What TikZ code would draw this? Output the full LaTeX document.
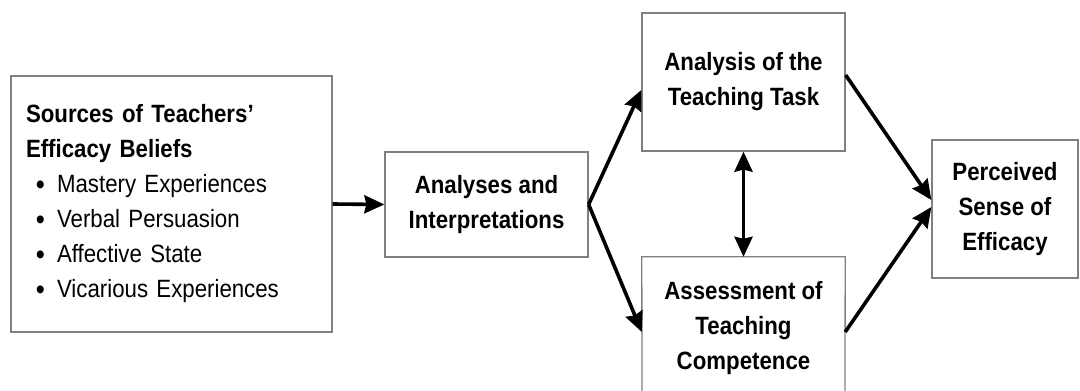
\documentclass[tikz,border=0pt]{standalone}
\usepackage{fontspec}
\setmainfont{Liberation Sans}[FakeStretch=0.89]
\usetikzlibrary{arrows.meta}
\definecolor{boxgray}{RGB}{128,128,128}
\newcommand{\bul}{\hspace{10pt}\raisebox{-1.5pt}{\fontsize{29}{35}\selectfont •}\hspace{12pt}}
\begin{document}
\begin{tikzpicture}[x=1pt,y=-1pt,
  every node/.style={font=\fontsize{25}{35}\selectfont},
  box/.style={draw=boxgray,line width=1.3pt,inner sep=0pt,align=center},
  flow/.style={line width=3.6pt,-{Stealth[length=20pt,width=18pt,inset=2pt]}},
  biflow/.style={line width=3.6pt,{Stealth[length=20pt,width=18pt,inset=2pt]}-{Stealth[length=20pt,width=18pt,inset=2pt]}}]
\useasboundingbox (0,0) rectangle (1080,391);
\fill[white] (0,0) rectangle (1080,391);
\node[box,align=left,text width=291pt,inner xsep=15pt,minimum height=256pt] (src) at (171.5,204)
  {\textbf{Sources of Teachers’}\\
   \textbf{Efficacy Beliefs}\\
   \bul Mastery Experiences\\
   \bul Verbal Persuasion\\
   \bul Affective State\\
   \bul Vicarious Experiences};
\node[box,minimum width=203pt,minimum height=105pt] (ana) at (486.5,204.5)
  {\textbf{Analyses and}\\\textbf{Interpretations}};
\node[box,minimum width=203pt,minimum height=138pt] (task) at (743.5,82)
  {\textbf{Analysis of the}\\\textbf{Teaching Task}};
\node[inner sep=0pt,align=center,minimum width=203pt,minimum height=142pt] (comp) at (743.5,328)
  {\textbf{Assessment of}\\\textbf{Teaching}\\\textbf{Competence}};
\coordinate (compbl) at (642,391);
\coordinate (compbr) at (845,391);
\draw[draw=boxgray,line width=1.3pt] (compbl) -- (comp.north west) -- (comp.north east) -- (compbr);
\node[box,minimum width=146pt,minimum height=138pt] (eff) at (1005,209)
  {\textbf{Perceived}\\\textbf{Sense of}\\\textbf{Efficacy}};
\draw[flow] (src.east) -- (ana.west);
\draw[flow] (ana.east) -- ([yshift=-8pt]task.west);
\draw[flow] (ana.east) -- ([yshift=-4pt]comp.west);
\draw[biflow] (task.south) -- (comp.north);
\draw[flow] ([yshift=7pt]task.east) -- ([yshift=9pt]eff.west);
\draw[flow] ([yshift=-4pt]comp.east) -- ([yshift=2pt]eff.west);
\end{tikzpicture}
\end{document}
